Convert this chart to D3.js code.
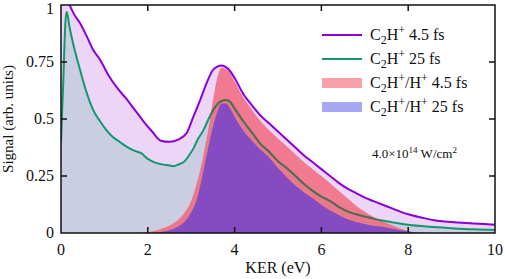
<!DOCTYPE html>
<html>
<head>
<meta charset="utf-8">
<script src="https://cdn.jsdelivr.net/npm/d3@7"></script>
<style>
  body { margin: 0; background: #fff; }
  svg text { font-family: "Liberation Serif", "DejaVu Serif", "Noto Serif", "FreeSerif", "Tinos", "Times New Roman", Times, "Liberation Sans", serif; }
</style>
</head>
<body>
<div id="chart"></div>
<script>
var w = 505, h = 279;
var margin = {top: 5, right: 10, bottom: 46, left: 61};

// C2H+ 4.5 fs (purple line)
var kerPurple = [0, 0.1, 0.2, 0.3, 0.44, 0.6, 0.75, 0.9, 1.1, 1.3, 1.5, 1.7, 1.9, 2.1, 2.3, 2.5, 2.7, 2.9, 3.05, 3.2, 3.36, 3.5, 3.6, 3.7, 3.85, 4.0, 4.2, 4.4, 4.6, 4.8, 5.0, 5.2, 5.4, 5.6, 5.8, 6.0, 6.2, 6.4, 6.6, 6.8, 7.0, 7.2, 7.4, 7.6, 7.8, 8.0, 8.3, 8.6, 9.0, 9.5, 10];
var sigPurple = [1.1, 1.06, 1.0, 0.96, 0.92, 0.86, 0.8, 0.76, 0.69, 0.635, 0.59, 0.54, 0.49, 0.445, 0.405, 0.4, 0.41, 0.44, 0.51, 0.58, 0.66, 0.715, 0.73, 0.735, 0.72, 0.68, 0.61, 0.56, 0.515, 0.48, 0.445, 0.41, 0.375, 0.34, 0.31, 0.28, 0.25, 0.22, 0.195, 0.175, 0.155, 0.14, 0.125, 0.11, 0.095, 0.082, 0.068, 0.056, 0.048, 0.042, 0.036];

// C2H+ 25 fs (green line)
var kerGreen = [0, 0.05, 0.1, 0.13, 0.2, 0.28, 0.36, 0.44, 0.52, 0.6, 0.74, 0.9, 1.05, 1.2, 1.35, 1.5, 1.7, 1.85, 2.0, 2.15, 2.3, 2.5, 2.6, 2.7, 2.82, 2.95, 3.05, 3.15, 3.28, 3.4, 3.51, 3.66, 3.8, 3.9, 3.97, 4.2, 4.4, 4.6, 4.8, 5.0, 5.2, 5.4, 5.6, 5.8, 6.0, 6.2, 6.4, 6.6, 6.8, 7.0, 7.2, 7.4, 7.6, 7.8, 8.0, 8.5, 9.0, 9.5, 10];
var sigGreen = [0.4, 0.65, 0.92, 0.97, 0.9, 0.83, 0.77, 0.715, 0.66, 0.61, 0.54, 0.49, 0.45, 0.42, 0.4, 0.38, 0.36, 0.35, 0.325, 0.31, 0.302, 0.296, 0.293, 0.3, 0.31, 0.34, 0.37, 0.41, 0.45, 0.5, 0.54, 0.575, 0.583, 0.575, 0.555, 0.49, 0.44, 0.39, 0.355, 0.315, 0.285, 0.25, 0.215, 0.185, 0.16, 0.14, 0.115, 0.095, 0.082, 0.072, 0.063, 0.055, 0.048, 0.042, 0.036, 0.027, 0.021, 0.016, 0.013];

// C2H+/H+ 4.5 fs (pink fill)
var kerPink = [1.8, 2.0, 2.3, 2.5, 2.7, 2.85, 3.0, 3.1, 3.2, 3.3, 3.4, 3.5, 3.6, 3.7, 3.8, 3.9, 4.0, 4.2, 4.4, 4.6, 4.8, 5.0, 5.2, 5.4, 5.6, 5.8, 6.0, 6.2, 6.4, 6.6, 6.8, 7.0, 7.2, 7.4, 7.6, 7.8, 8.0, 8.2];
var sigPink = [0, 0.004, 0.018, 0.033, 0.058, 0.09, 0.14, 0.2, 0.27, 0.36, 0.46, 0.58, 0.68, 0.725, 0.72, 0.7, 0.665, 0.595, 0.54, 0.49, 0.45, 0.415, 0.38, 0.345, 0.31, 0.28, 0.25, 0.218, 0.185, 0.152, 0.12, 0.093, 0.07, 0.052, 0.036, 0.021, 0.009, 0];

// C2H+/H+ 25 fs (blue fill)
var kerBlue = [2.1, 2.3, 2.5, 2.7, 2.85, 3.0, 3.1, 3.2, 3.3, 3.4, 3.5, 3.6, 3.7, 3.8, 3.9, 4.0, 4.2, 4.4, 4.6, 4.8, 5.0, 5.2, 5.4, 5.6, 5.8, 6.0, 6.2, 6.4, 6.6, 6.8, 7.0, 7.2, 7.4, 7.6, 7.8, 8.0, 8.3, 8.6];
var sigBlue = [0, 0.004, 0.012, 0.028, 0.05, 0.09, 0.13, 0.2, 0.29, 0.38, 0.465, 0.53, 0.568, 0.568, 0.545, 0.51, 0.45, 0.405, 0.365, 0.33, 0.285, 0.245, 0.208, 0.178, 0.152, 0.123, 0.099, 0.079, 0.06, 0.048, 0.04, 0.032, 0.027, 0.02, 0.013, 0.007, 0.002, 0];

var xTicks = [0, 2, 4, 6, 8, 10];
var yTicks = [0, 0.25, 0.5, 0.75, 1];
var yTickLabels = ["0", "0.25", "0.5", "0.75", "1"];

function zipPts(xs, ys) {
  return xs.map(function(x, i) { return [x, ys[i]]; });
}
var purple = zipPts(kerPurple, sigPurple);
var green = zipPts(kerGreen, sigGreen);
var pink = zipPts(kerPink, sigPink);
var blue = zipPts(kerBlue, sigBlue);

var x = d3.scaleLinear().domain([0, 10]).range([margin.left, w - margin.right]);
var y = d3.scaleLinear().domain([0, 1]).range([h - margin.bottom, margin.top]);

var svg = d3.select("#chart").append("svg")
  .attr("width", w)
  .attr("height", h)
  .attr("fill", "#111");

svg.append("clipPath")
  .attr("id", "plot-area")
  .append("rect")
  .attr("x", x(0))
  .attr("y", y(1))
  .attr("width", x(10) - x(0))
  .attr("height", y(0) - y(1));

var line = d3.line()
  .x(function(d) { return x(d[0]); })
  .y(function(d) { return y(d[1]); })
  .curve(d3.curveMonotoneX);

var area = d3.area()
  .x(function(d) { return x(d[0]); })
  .y0(y(0))
  .y1(function(d) { return y(d[1]); })
  .curve(d3.curveMonotoneX);

var plot = svg.append("g").attr("clip-path", "url(#plot-area)");

// light fills under the C2H+ curves
plot.append("path").attr("d", area(purple)).attr("fill", "#ecd5f6");
plot.append("path").attr("d", area(green)).attr("fill", "#cbcde3");

plot.append("path").attr("d", line(green))
  .attr("fill", "none").attr("stroke", "#12986f").attr("stroke-width", 2);

// coincidence fills
plot.append("clipPath").attr("id", "pink-area")
  .append("path").attr("d", area(pink));
plot.append("path").attr("d", area(pink))
  .attr("fill", "rgb(243,88,105)").attr("fill-opacity", 0.72);

// green line shows darker through the pink
plot.append("path").attr("d", line(green))
  .attr("clip-path", "url(#pink-area)")
  .attr("fill", "none").attr("stroke", "#4f6e50").attr("stroke-width", 2);

plot.append("path").attr("d", area(blue))
  .attr("fill", "rgb(100,60,210)").attr("fill-opacity", 0.75);

plot.append("path").attr("d", line(purple))
  .attr("fill", "none").attr("stroke", "#8a00d6").attr("stroke-width", 2);

// frame and ticks
svg.append("rect")
  .attr("x", x(0)).attr("y", y(1))
  .attr("width", x(10) - x(0)).attr("height", y(0) - y(1))
  .attr("fill", "none").attr("stroke", "#111").attr("stroke-width", 1.5);

var tk = 6;
svg.append("g").selectAll("line").data(xTicks.slice(1, -1)).enter()
  .append("line")
  .attr("x1", function(d) { return x(d); }).attr("x2", function(d) { return x(d); })
  .attr("y1", y(0)).attr("y2", y(0) - tk)
  .attr("stroke", "#111").attr("stroke-width", 1.5);
svg.append("g").selectAll("line").data(xTicks.slice(1, -1)).enter()
  .append("line")
  .attr("x1", function(d) { return x(d); }).attr("x2", function(d) { return x(d); })
  .attr("y1", y(1)).attr("y2", y(1) + tk)
  .attr("stroke", "#111").attr("stroke-width", 1.5);
svg.append("g").selectAll("line").data(yTicks.slice(1, -1)).enter()
  .append("line")
  .attr("x1", x(0)).attr("x2", x(0) + tk)
  .attr("y1", function(d) { return y(d); }).attr("y2", function(d) { return y(d); })
  .attr("stroke", "#111").attr("stroke-width", 1.5);
svg.append("g").selectAll("line").data(yTicks.slice(1, -1)).enter()
  .append("line")
  .attr("x1", x(10)).attr("x2", x(10) - tk)
  .attr("y1", function(d) { return y(d); }).attr("y2", function(d) { return y(d); })
  .attr("stroke", "#111").attr("stroke-width", 1.5);

// tick labels
svg.append("g").selectAll("text").data(xTicks).enter()
  .append("text")
  .attr("x", function(d) { return x(d); })
  .attr("y", y(0) + 22)
  .attr("text-anchor", "middle")
  .style("font-size", "16px")
  .text(function(d) { return d; });

svg.append("g").selectAll("text").data(yTicks).enter()
  .append("text")
  .attr("x", x(0) - 7)
  .attr("y", function(d) { return d === 1 ? y(d) + 8.5 : y(d) + 5; })
  .attr("text-anchor", "end")
  .style("font-size", "16px")
  .text(function(d, i) { return yTickLabels[i]; });

// axis titles
svg.append("text")
  .attr("x", (x(0) + x(10)) / 2)
  .attr("y", h - 6)
  .attr("text-anchor", "middle")
  .style("font-size", "16px")
  .text("KER (eV)");

svg.append("text")
  .attr("transform", "translate(13," + y(0.5) + ") rotate(-90)")
  .attr("text-anchor", "middle")
  .style("font-size", "15px")
  .text("Signal (arb. units)");

// legend
var legendItems = [
  {kind: "line", color: "#8a00d6", ion: "C2H+", tail: " 4.5 fs"},
  {kind: "line", color: "#12986f", ion: "C2H+", tail: " 25 fs"},
  {kind: "rect", color: "#f8a1a9", ion: "C2H+/H+", tail: " 4.5 fs"},
  {kind: "rect", color: "#a7a7f4", ion: "C2H+/H+", tail: " 25 fs"}
];
var legendY = [35, 59, 83, 107];

function writeFormula(t, withPair, tail) {
  t.append("tspan").text("C");
  t.append("tspan").attr("dy", 4).style("font-size", "12px").text("2");
  t.append("tspan").attr("dy", -4).text("H");
  t.append("tspan").attr("dy", -6).style("font-size", "12px").text("+");
  if (withPair) {
    t.append("tspan").attr("dy", 6).text("/H");
    t.append("tspan").attr("dy", -6).style("font-size", "12px").text("+");
  }
  t.append("tspan").attr("dy", 6).text(tail);
}

var legend = svg.append("g");
legendItems.forEach(function(d, i) {
  var ly = legendY[i];
  if (d.kind === "line") {
    legend.append("line")
      .attr("x1", 322).attr("x2", 362).attr("y1", ly).attr("y2", ly)
      .attr("stroke", d.color).attr("stroke-width", 2);
  } else {
    legend.append("rect")
      .attr("x", 322).attr("y", ly - 5).attr("width", 40).attr("height", 10)
      .attr("fill", d.color);
  }
  var t = legend.append("text")
    .attr("x", 370).attr("y", ly + 5)
    .style("font-size", "16px");
  writeFormula(t, d.ion.indexOf("/") > -1, d.tail);
});

// intensity note
var note = svg.append("text")
  .attr("x", 372).attr("y", 158)
  .style("font-size", "13px");
note.append("tspan").text("4.0\u00d710");
note.append("tspan").attr("dy", -5).style("font-size", "9px").text("14");
note.append("tspan").attr("dy", 5).text(" W/cm");
note.append("tspan").attr("dy", -5).style("font-size", "9px").text("2");
</script>
</body>
</html>
